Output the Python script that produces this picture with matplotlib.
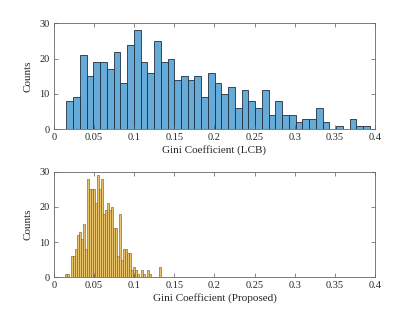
import numpy as np
import matplotlib
matplotlib.use('Agg')
import matplotlib.pyplot as plt

plt.rcParams['font.family'] = ['Liberation Serif', 'DejaVu Serif']

# LCB histogram: counts per bin, bins start at 0.0155, width 0.0084
lcb_counts = [8, 9, 21, 15, 19, 19, 17, 22, 13, 24,
              28, 19, 16, 25, 19, 20, 14, 15, 14, 15,
              9, 16, 13, 10, 12, 6, 11, 8, 6, 11,
              4, 8, 4, 4, 2, 3, 3, 6, 2, 0,
              1, 0, 3, 1, 1]
lcb_start, lcb_width = 0.0155, 0.0084

# Proposed histogram: bins start at 0.0135, width 0.0025
prop_counts = [1, 1, 0, 6, 6, 8, 12, 13, 11, 15,
               8, 28, 25, 25, 25, 21, 29, 25, 28, 18,
               19, 21, 19, 20, 14, 14, 6, 18, 5, 8,
               8, 7, 7, 2, 3, 2, 1, 0, 2, 1,
               0, 2, 1, 0, 0, 0, 0, 3]
prop_start, prop_width = 0.0135, 0.0025

xticks = [0, 0.05, 0.1, 0.15, 0.2, 0.25, 0.3, 0.35, 0.4]
xticklabels = ['0', '0.05', '0.1', '0.15', '0.2', '0.25', '0.3', '0.35', '0.4']
yticks = [0, 10, 20, 30]

fig = plt.figure(figsize=(4.15, 3.12), dpi=100)
ax1 = fig.add_axes([0.130, 0.5856, 0.7735, 0.3397])
ax2 = fig.add_axes([0.130, 0.1112, 0.7735, 0.3385])


def draw(ax, counts, start, width, face, edge, lw, xlabel):
    counts = np.array(counts, dtype=float)
    edges = start + width * np.arange(len(counts) + 1)
    ax.hist(edges[:-1], bins=edges, weights=counts, facecolor=face,
            edgecolor=edge, linewidth=lw)
    ax.set_xlim(0, 0.4)
    ax.set_ylim(0, 30)
    ax.set_xticks(xticks)
    ax.set_xticklabels(xticklabels)
    ax.set_yticks(yticks)
    ax.tick_params(direction='in', length=3, width=0.5, color='0.35',
                   labelcolor='0.15', labelsize=7.5, top=True, right=True, pad=3)
    for s in ax.spines.values():
        s.set_color('0.4')
        s.set_linewidth(0.6)
    ax.set_xlabel(xlabel, fontsize=8, labelpad=2, color='0.15')
    ax.set_ylabel('Counts', fontsize=8, labelpad=5, color='0.15')


draw(ax1, lcb_counts, lcb_start, lcb_width, '#66AAD7', '#1f2f3f', 0.6, 'Gini Coefficient (LCB)')
draw(ax2, prop_counts, prop_start, prop_width, '#E8C36A', '#7a6230', 0.45, 'Gini Coefficient (Proposed)')

fig.savefig('out.png', dpi=100)
